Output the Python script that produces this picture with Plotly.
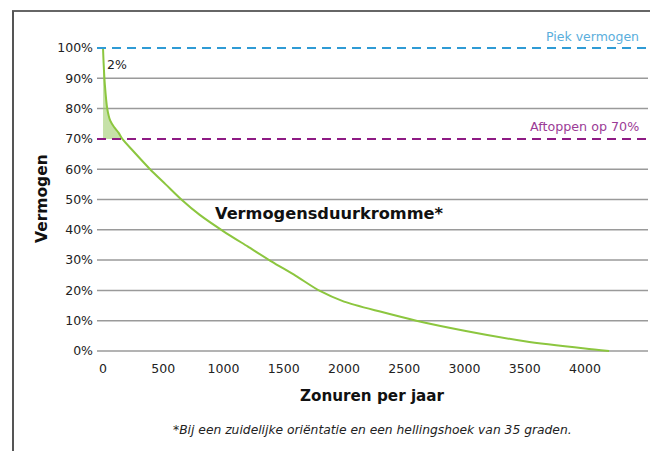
import plotly.graph_objects as go

# Data
hours = [0, 5, 15, 35, 60, 90, 130, 160, 250, 390, 520, 650, 800, 1000, 1200, 1400, 1600, 1800, 2000, 2300, 2600, 3000, 3500, 4000, 4200]
capacity = [100, 95, 88, 80, 76, 74, 72, 70, 66, 60, 55, 50, 45, 39.5, 34.5, 29.5, 24.8, 19.8, 16.3, 13, 10, 6.7, 3.2, 0.8, 0]
peak_level = 100
cap_level = 70
x_ticks = [0, 500, 1000, 1500, 2000, 2500, 3000, 3500, 4000]
y_ticks = [0, 10, 20, 30, 40, 50, 60, 70, 80, 90, 100]
y_ticktext = [f"{v}%" for v in y_ticks]

FONT = "DejaVu Sans"
GREEN = "#8cc63f"
BLUE = "#2f9bd5"
PURPLE = "#8e1b84"

fill_x = [h for h, c in zip(hours, capacity) if c >= cap_level]
fill_y = [c for c in capacity if c >= cap_level]

fig = go.Figure()
fig.add_trace(go.Scatter(x=fill_x, y=[cap_level] * len(fill_x), mode="lines",
                         line=dict(width=0), hoverinfo="skip", showlegend=False))
fig.add_trace(go.Scatter(x=fill_x, y=fill_y, mode="lines", fill="tonexty",
                         fillcolor="rgba(160,205,110,0.6)", line=dict(width=0, shape="spline"),
                         hoverinfo="skip", showlegend=False))
fig.add_trace(go.Scatter(x=hours, y=capacity, mode="lines",
                         line=dict(color=GREEN, width=2, shape="spline", smoothing=0.7),
                         showlegend=False))

OFF = 8  # page body margin
W, H = 658 - OFF, 451 - OFF
L, T = 97 - OFF, 45 - OFF
R = 658 - 648
B = 451 - 354
pw, ph = W - L - R, H - T - B

def px(xp):
    return (xp - OFF - L) / pw

def py(yp):
    return (H - B - (yp - OFF)) / ph

shapes = []
# gray gridlines except where the dashed reference lines sit
for v in y_ticks:
    if v in (peak_level, cap_level):
        continue
    shapes.append(dict(type="line", xref="paper", yref="y", x0=0, x1=1, y0=v, y1=v,
                       layer="below", line=dict(color="#9a9a9a", width=1.5)))
shapes += [
    dict(type="line", xref="paper", yref="y", x0=0, x1=1, y0=peak_level, y1=peak_level,
         line=dict(color=BLUE, width=2, dash="9px,6px")),
    dict(type="line", xref="paper", yref="y", x0=0, x1=1, y0=cap_level, y1=cap_level,
         line=dict(color=PURPLE, width=2, dash="9px,6px")),
    dict(type="line", xref="paper", yref="paper", x0=px(12), x1=px(662), y0=py(11), y1=py(11),
         line=dict(color="#333333", width=1.5)),
    dict(type="line", xref="paper", yref="paper", x0=px(13), x1=px(13), y0=py(11), y1=py(460),
         line=dict(color="#555555", width=2)),
]

annotations = [
    dict(text="Piek vermogen", xref="paper", yref="paper", x=px(641), y=py(36),
         xanchor="right", yanchor="middle", showarrow=False,
         font=dict(family=FONT, size=12.5, color="#5aaedc")),
    dict(text="Aftoppen op 70%", xref="paper", yref="paper", x=px(641), y=py(126),
         xanchor="right", yanchor="middle", showarrow=False,
         font=dict(family=FONT, size=12.7, color="#9b3b96")),
    dict(text="2%", xref="paper", yref="paper", x=px(105), y=py(64),
         xanchor="left", yanchor="middle", showarrow=False,
         font=dict(family=FONT, size=12.5, color="#222222")),
    dict(text="<b>Vermogensduurkromme*</b>", xref="paper", yref="paper", x=px(213), y=py(213),
         xanchor="left", yanchor="middle", showarrow=False,
         font=dict(family=FONT, size=16.2, color="#111111")),
    dict(text="<b>Vermogen</b>", xref="paper", yref="paper", x=px(42), y=py(199),
         xanchor="center", yanchor="middle", showarrow=False, textangle=-90,
         font=dict(family=FONT, size=15.5, color="#111111")),
    dict(text="<b>Zonuren per jaar</b>", xref="paper", yref="paper", x=px(372), y=py(396),
         xanchor="center", yanchor="middle", showarrow=False,
         font=dict(family=FONT, size=15.2, color="#111111")),
    dict(text="<i>*Bij een zuidelijke oriëntatie en een hellingshoek van 35 graden.</i>", xref="paper", yref="paper",
         x=px(372), y=py(430), xanchor="center", yanchor="middle", showarrow=False,
         font=dict(family=FONT, size=12.3, color="#222222")),
]

fig.update_layout(
    width=W, height=H,
    margin=dict(l=L, r=R, t=T, b=B, autoexpand=False),
    paper_bgcolor="white", plot_bgcolor="white",
    shapes=shapes, annotations=annotations,
    xaxis=dict(range=[-50, 4523], tickvals=x_ticks, showgrid=False, zeroline=False,
               showline=False, ticks="", automargin=False, ticklabelstandoff=5,
               tickfont=dict(family=FONT, size=12.5, color="#222222")),
    yaxis=dict(range=[-1, 101], tickvals=y_ticks, ticktext=y_ticktext,
               showgrid=False, zeroline=False,
               showline=False, ticks="", ticklabelstandoff=3, automargin=False,
               tickfont=dict(family=FONT, size=12.5, color="#222222")),
)

fig.write_html("out.html")
